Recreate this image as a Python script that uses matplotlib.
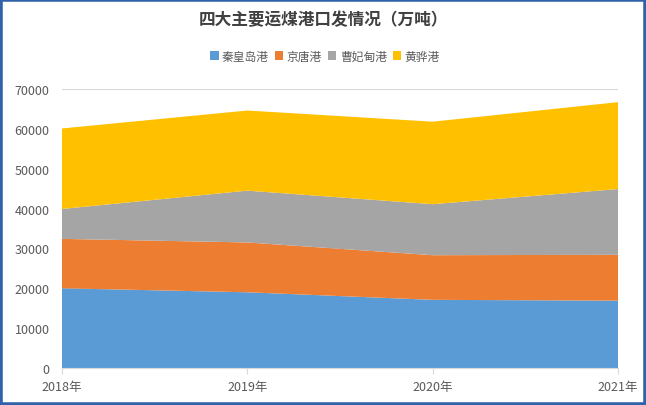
import matplotlib
matplotlib.use("Agg")
import matplotlib.pyplot as plt
from matplotlib.patches import Rectangle

plt.rcParams['font.family'] = ['Noto Sans CJK SC', 'DejaVu Sans']

years = ["2018年", "2019年", "2020年", "2021年"]
qinhuangdao = [20000, 19000, 17100, 16900]
jingtang = [12400, 12500, 11200, 11500]
caofeidian = [7500, 13000, 12800, 16500]
huanghua = [20200, 20100, 20700, 21800]
series_names = ["秦皇岛港", "京唐港", "曹妃甸港", "黄骅港"]
colors = ["#5B9BD5", "#ED7D31", "#A5A5A5", "#FFC000"]

W, H = 646, 406
fig = plt.figure(figsize=(W/100, H/100), dpi=100)
ax = fig.add_axes([62/W, (H-369)/H, 556/W, 279/H])

x = list(range(len(years)))
ax.stackplot(x, qinhuangdao, jingtang, caofeidian, huanghua,
             colors=colors, labels=series_names, zorder=2, linewidth=0)

ax.set_xlim(0, len(years)-1)
ax.set_ylim(0, 70000)
ax.set_yticks(range(0, 70001, 10000))
ax.set_xticks(x)
ax.set_xticklabels(years)
ax.yaxis.grid(True, color="#D9D9D9", linewidth=0.8, zorder=0)
ax.set_axisbelow(True)
for s in ["top", "right", "left"]:
    ax.spines[s].set_visible(False)
ax.spines["bottom"].set_color("#D9D9D9")
ax.tick_params(axis="y", length=0, labelsize=9, labelcolor="#595959", pad=9)
ax.tick_params(axis="x", length=4, color="#D9D9D9", labelsize=9, labelcolor="#595959", pad=5)

fig.text(323/W, 1-20/H, "四大主要运煤港口发情况（万吨）", ha="center", va="center",
         fontsize=12, fontweight="bold", color="#404040")

handles, labels = ax.get_legend_handles_labels()
leg = fig.legend(handles, labels, loc="center", bbox_to_anchor=(325/W, 1-57/H), ncol=4,
                 frameon=False, fontsize=8.5, handlelength=0.7, handleheight=0.7,
                 handletextpad=0.3, columnspacing=0.5, labelcolor="#595959")

fig.patches.append(Rectangle((0, 0), 1, 1, transform=fig.transFigure, fill=False,
                             edgecolor="#2F62A8", linewidth=4, zorder=10))

fig.savefig("out.png", dpi=100)
